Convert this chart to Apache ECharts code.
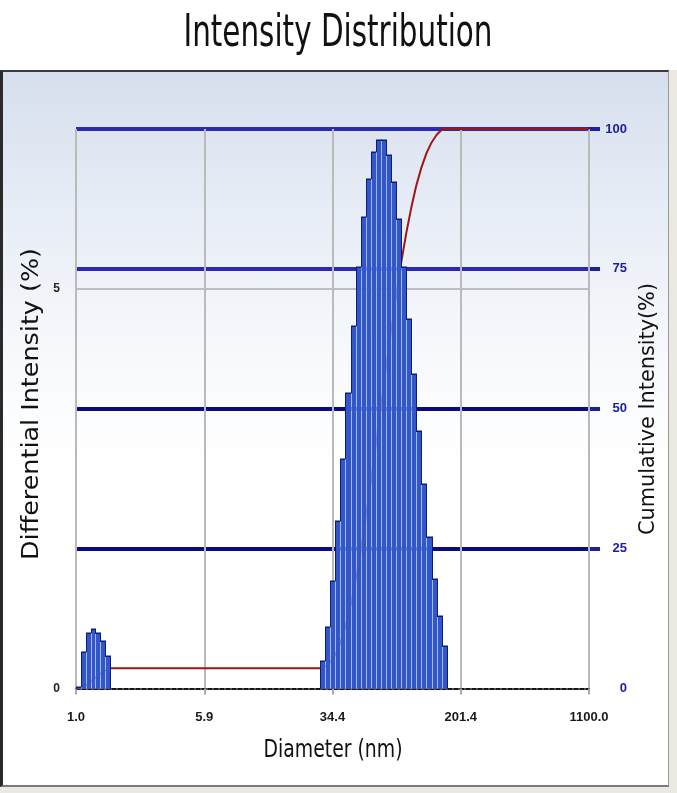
<!DOCTYPE html>
<html>
<head>
<meta charset="utf-8">
<script src="https://cdn.jsdelivr.net/npm/echarts@6/dist/echarts.min.js"></script>
<style>
  html, body { margin: 0; padding: 0; background: #ffffff; }
  #wrap { position: relative; width: 677px; height: 793px; overflow: hidden; }
  #panel { position: absolute; left: 0; top: 70px; width: 665px; height: 713px;
           border-top: 2px solid #3a3a3a; border-left: 3px solid #2a2a2a; border-bottom: 2px solid #7a7a7a; border-right: 1px solid #9a9a9a;
           background: linear-gradient(to bottom, #d6dfee 0%, #e6ecf5 18%, #f7f9fc 40%, #ffffff 55%, #ffffff 100%); }
  #strip { position: absolute; left: 669px; top: 70px; width: 8px; height: 723px; background: #ebe8e1; }
  #foot { position: absolute; left: 0; top: 787px; width: 677px; height: 6px; background: #ebe8e1; }
  #chart { position: absolute; left: 0; top: 0; width: 677px; height: 793px; }
</style>
</head>
<body>
<div id="wrap">
  <div id="panel"></div>
  <div id="strip"></div>
  <div id="foot"></div>
  <div id="chart"></div>
</div>
<script>
// ---------------- data ----------------
const xTickLabels = ['1.0', '5.9', '34.4', '201.4', '1100.0'];
const xMinDiameter = 1.0;
const xMaxDiameter = 1100.0;

// small peak (nm) and differential intensity (%)
const peak1Diameters = [1.03, 1.10, 1.18, 1.26, 1.35, 1.44, 1.54];
const peak1Values    = [0.02, 0.46, 0.69, 0.74, 0.70, 0.59, 0.41];

// main peak (nm) and differential intensity (%)
const peak2Diameters = [29.0, 31.1, 33.3, 35.7, 38.2, 41.0, 43.9, 47.0, 50.4, 54.0,
                        57.9, 62.0, 66.5, 71.2, 76.3, 81.8, 87.7, 93.9, 100.7, 107.9,
                        115.6, 123.8, 132.7, 142.2, 152.4];
const peak2Values    = [0.34, 0.77, 1.35, 2.09, 2.87, 3.70, 4.53, 5.27, 5.90, 6.38,
                        6.71, 6.86, 6.86, 6.67, 6.34, 5.88, 5.27, 4.62, 3.93, 3.22,
                        2.56, 1.90, 1.37, 0.91, 0.53];

// cumulative intensity curve (%)
const cumulativeDiameters = [1.0, 1.06, 1.14, 1.22, 1.30, 1.39, 1.49, 1.60, 28.0,
                             30.0, 32.2, 34.5, 36.9, 39.6, 42.4, 45.5, 48.7, 52.2, 55.9,
                             59.9, 64.2, 68.8, 73.8, 79.1, 84.7, 90.8, 97.3, 104.2, 111.7,
                             119.7, 128.3, 137.5, 147.3, 157.9, 1100.0];
const cumulativeValues    = [0, 0.02, 0.48, 1.17, 1.91, 2.61, 3.20, 3.61, 3.61,
                             3.95, 4.72, 6.07, 8.16, 11.03, 14.73, 19.26, 24.53, 30.42, 36.80,
                             43.51, 50.37, 57.23, 63.90, 70.24, 76.11, 81.38, 86.00, 89.93, 93.14,
                             95.70, 97.60, 98.97, 99.88, 100, 100];

const leftAxisMax = 7;
const leftAxisInterval = 5;
const rightAxisMax = 100;
const rightAxisInterval = 25;
const rightTickValues = [25, 50, 75, 100];

// ---------------- helpers ----------------
const LOG_MIN = Math.log10(xMinDiameter);
const LOG_MAX = Math.log10(xMaxDiameter);
const LOG_INTERVAL = (LOG_MAX - LOG_MIN) / (xTickLabels.length - 1);

function buildBars(diams, vals) {
  const logs = diams.map(d => Math.log10(d));
  const n = logs.length;
  const edges = [];
  for (let i = 0; i <= n; i++) {
    if (i === 0) edges.push(logs[0] - (logs[1] - logs[0]) / 2);
    else if (i === n) edges.push(logs[n - 1] + (logs[n - 1] - logs[n - 2]) / 2);
    else edges.push((logs[i - 1] + logs[i]) / 2);
  }
  return logs.map((lg, i) => [lg, vals[i], edges[i], edges[i + 1],
                              i > 0 ? vals[i - 1] : 0, i < n - 1 ? vals[i + 1] : 0]);
}
const barData = buildBars(peak1Diameters, peak1Values).concat(buildBars(peak2Diameters, peak2Values));
const cumData = cumulativeDiameters.map((d, i) => [Math.log10(d), cumulativeValues[i]]);

function renderBar(params, api) {
  const v = api.value(1), l = api.value(2), r = api.value(3), pv = api.value(4), nv = api.value(5);
  const base = api.coord([l, 0]);
  const x0 = Math.round(base[0]);
  const x1 = Math.round(api.coord([r, 0])[0]);
  const yb = Math.round(base[1]);
  const yt = Math.round(api.coord([l, v])[1]);
  const yp = Math.round(api.coord([l, pv])[1]);
  const dark = '#0d1b7a', fill = '#3157c8', gap = 'rgba(140,165,235,0.78)';
  const lowTop = Math.max(yt, yp), highTop = Math.min(yt, yp);
  const children = [
    { type: 'rect', shape: { x: x0 + 1, y: yt, width: x1 - x0 - 1, height: yb - yt }, style: { fill: fill } },
    { type: 'rect', shape: { x: x0, y: lowTop, width: 1, height: yb - lowTop }, style: { fill: gap } },
    { type: 'rect', shape: { x: x0, y: highTop, width: 1, height: lowTop - highTop }, style: { fill: dark } },
    { type: 'rect', shape: { x: x0, y: yt - 0.5, width: x1 - x0 + 1, height: 1.5 }, style: { fill: dark } }
  ];
  if (nv === 0) {
    children.push({ type: 'rect', shape: { x: x1, y: yt, width: 1, height: yb - yt }, style: { fill: dark } });
  }
  return { type: 'group', children: children };
}

const FAMILY = "'DejaVu Sans', Tahoma, Verdana, sans-serif";
const measureCtx = document.createElement('canvas').getContext('2d');
function fitScale(str, fontSize, targetWidth) {
  measureCtx.font = fontSize + 'px ' + FAMILY;
  return targetWidth / measureCtx.measureText(str).width;
}
function label(str, cx, cy, fontSize, targetLen, rotation) {
  return {
    type: 'text', x: cx, y: cy, rotation: rotation || 0,
    scaleX: fitScale(str, fontSize, targetLen), scaleY: 1, z: 100,
    style: { text: str, fontSize: fontSize, fontFamily: FAMILY, fill: '#111111',
             align: 'center', verticalAlign: 'middle' }
  };
}

// ---------------- chart ----------------
const chart = echarts.init(document.getElementById('chart'), null, { renderer: 'canvas' });
const option = {
  animation: false,
  backgroundColor: 'transparent',
  grid: { left: 76, right: 88, top: 129, bottom: 104.5, containLabel: false },
  graphic: [
    label('Intensity Distribution', 338, 35, 44, 309, 0),
    label('Differential Intensity (%)', 32, 404, 23, 312, Math.PI / 2),
    label('Cumulative Intensity(%)', 649, 409, 21, 252, Math.PI / 2),
    label('Diameter (nm)', 333, 750, 25, 139, 0)
  ],
  xAxis: {
    type: 'value', min: LOG_MIN, max: LOG_MAX, interval: LOG_INTERVAL, z: 1,
    axisLine: { show: true, onZero: false, lineStyle: { color: '#161616', width: 2, type: [4, 2] } },
    axisTick: { show: true, length: 6, lineStyle: { color: '#a9a9a9', width: 2 } },
    splitLine: { show: true, lineStyle: { color: '#bababa', width: 2 } },
    axisLabel: {
      margin: 22, fontSize: 13, fontWeight: 'bold', color: '#1a1a1a', fontFamily: "'Liberation Sans', Arial, sans-serif",
      formatter: function (v) {
        const i = Math.round((v - LOG_MIN) / LOG_INTERVAL);
        return xTickLabels[i] !== undefined ? xTickLabels[i] : '';
      }
    }
  },
  yAxis: [
    {
      type: 'value', min: 0, max: leftAxisMax, interval: leftAxisInterval, position: 'left', z: 0,
      axisLine: { show: false }, axisTick: { show: false },
      splitLine: { show: true, showMinLine: false, lineStyle: { color: '#bdbdbd', width: 2 } },
      axisLabel: { margin: 16, fontSize: 12, fontWeight: 'bold', color: '#222222', showMaxLabel: false,
                   fontFamily: "'Liberation Sans', Arial, sans-serif" }
    },
    {
      type: 'value', min: 0, max: rightAxisMax, interval: rightAxisInterval, position: 'right', z: 0,
      axisLine: { show: false },
      axisTick: { show: true, length: 11, customValues: rightTickValues, lineStyle: { color: '#1f1fa0', width: 4 } },
      splitLine: { show: true, showMinLine: true, showMaxLine: true,
                   lineStyle: { color: ['#0b0b80', '#0b0b80', '#2a2ab3', '#2a2ab3'], width: 4 } },
      axisLabel: { margin: 38, align: 'right', fontSize: 13, fontWeight: 'bold', color: '#1c1ca6',
                   fontFamily: "'Liberation Sans', Arial, sans-serif" }
    }
  ],
  series: [
    {
      name: 'Cumulative Intensity', type: 'line', yAxisIndex: 1, data: cumData,
      symbol: 'none', z: 2, smooth: false,
      lineStyle: { color: '#9e1616', width: 2 }
    },
    {
      name: 'Differential Intensity', type: 'custom', yAxisIndex: 0, data: barData,
      renderItem: renderBar, z: 3, clip: false,
      encode: { x: 0, y: 1 }
    }
  ]
};
chart.setOption(option);
</script>
</body>
</html>
